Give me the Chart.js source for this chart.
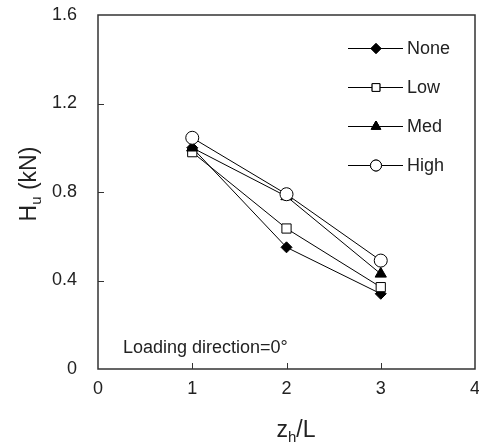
<!DOCTYPE html>
<html>
<head>
<meta charset="utf-8">
<script src="https://cdn.jsdelivr.net/npm/chart.js@4.4.0/dist/chart.umd.min.js"></script>
<style>
    html, body { margin: 0; padding: 0; background: #fff; }
    #wrap { width: 479px; height: 443px; }
</style>
</head>
<body>
<div id="wrap"><canvas id="hChart" width="479" height="443"></canvas></div>
<script>
const zhL = [1, 2, 3];
const hNone = [1.00, 0.55, 0.34];
const hLow = [0.98, 0.635, 0.37];
const hMed = [1.00, 0.78, 0.43];
const hHigh = [1.045, 0.79, 0.49];
const xTicks = [0, 1, 2, 3, 4];
const yTicks = [0, 0.4, 0.8, 1.2, 1.6];
const seriesNames = ["None", "Low", "Med", "High"];
const noteText = "Loading direction=0°";

const FONT = "'Liberation Sans', Arial, sans-serif";

function toPoints(ys) {
    return zhL.map((x, i) => ({ x: x, y: ys[i] }));
}

const styles = [
    { pointStyle: "rectRot", radius: 5.5, fill: "#000" },
    { pointStyle: "rect", radius: 6.5, fill: "#fff" },
    { pointStyle: "triangle", radius: 6.5, fill: "#000" },
    { pointStyle: "circle", radius: 6.5, fill: "#fff" },
];

const datasets = [hNone, hLow, hMed, hHigh].map((ys, i) => ({
    label: seriesNames[i],
    data: toPoints(ys),
    borderColor: "#000",
    borderWidth: 1,
    backgroundColor: styles[i].fill,
    pointStyle: styles[i].pointStyle,
    pointRadius: styles[i].radius,
    pointBackgroundColor: styles[i].fill,
    pointBorderColor: "#000",
    pointBorderWidth: 1,
    showLine: true,
    fill: false,
}));

// draws "main" + subscript + "rest" centred on 0,0 of the current transform
function subText(ctx, main, sub, rest, size, subSize, drop) {
    ctx.font = size + "px " + FONT;
    const w1 = ctx.measureText(main).width;
    const w3 = ctx.measureText(rest).width;
    ctx.font = subSize + "px " + FONT;
    const w2 = ctx.measureText(sub).width;
    const sx = -(w1 + w2 + w3) / 2;
    ctx.textAlign = "left";
    ctx.font = size + "px " + FONT;
    ctx.fillText(main, sx, 0);
    ctx.fillText(rest, sx + w1 + w2, 0);
    ctx.font = subSize + "px " + FONT;
    ctx.fillText(sub, sx + w1, drop);
}

// frame, inward ticks, legend, note and axis titles
const decorPlugin = {
    id: "decor",
    afterDraw(chart) {
        const ctx = chart.ctx;
        const a = chart.chartArea;
        const xs = chart.scales.x;
        const ys = chart.scales.y;
        ctx.save();
        ctx.strokeStyle = "#333";
        ctx.lineWidth = 1.5;
        ctx.strokeRect(a.left, a.top, a.right - a.left, a.bottom - a.top);

        ctx.lineWidth = 1;
        xTicks.slice(1, -1).forEach(v => {
            const px = Math.round(xs.getPixelForValue(v)) + 0.5;
            ctx.beginPath();
            ctx.moveTo(px, a.bottom);
            ctx.lineTo(px, a.bottom - 6);
            ctx.stroke();
        });
        yTicks.slice(1, -1).forEach(v => {
            const py = Math.round(ys.getPixelForValue(v)) + 0.5;
            ctx.beginPath();
            ctx.moveTo(a.left, py);
            ctx.lineTo(a.left + 6, py);
            ctx.stroke();
        });

        // legend, in series order
        ctx.textBaseline = "middle";
        ctx.textAlign = "left";
        datasets.forEach((ds, i) => {
            const y = 48 + i * 39;
            ctx.strokeStyle = "#000";
            ctx.lineWidth = 1;
            ctx.beginPath();
            ctx.moveTo(348, y + 0.5);
            ctx.lineTo(403, y + 0.5);
            ctx.stroke();
            ctx.fillStyle = ds.pointBackgroundColor;
            Chart.helpers.drawPoint(ctx, {
                pointStyle: ds.pointStyle,
                radius: i === 0 ? 5 : 5.5,
                borderWidth: 1,
                rotation: 0,
            }, 376, y + 0.5);
            ctx.fill();
            ctx.stroke();
            ctx.fillStyle = "#222";
            ctx.font = "18px " + FONT;
            ctx.fillText(ds.label, 407, y + 1);
        });

        // note
        ctx.fillStyle = "#222";
        ctx.font = "18px " + FONT;
        ctx.fillText(noteText, 123, 348);

        // axis titles
        ctx.textBaseline = "alphabetic";
        ctx.save();
        ctx.translate(36, 184);
        ctx.rotate(-Math.PI / 2);
        subText(ctx, "H", "u", " (kN)", 23, 15, 5);
        ctx.restore();

        ctx.save();
        ctx.translate(296, 437);
        subText(ctx, "z", "h", "/L", 23, 15, 5);
        ctx.restore();

        ctx.restore();
    }
};

document.addEventListener("DOMContentLoaded", () => {
    const ctx = document.getElementById("hChart").getContext("2d");
    new Chart(ctx, {
        type: "scatter",
        data: { datasets: datasets.slice().reverse() },
        options: {
            responsive: false,
            animation: false,
            layout: { autoPadding: false, padding: { left: 0, top: 15, right: 4, bottom: 0 } },
            plugins: { legend: { display: false }, tooltip: { enabled: false } },
            scales: {
                x: {
                    type: "linear",
                    min: 0,
                    max: 4,
                    afterBuildTicks: (s) => { s.ticks = xTicks.map(v => ({ value: v })); },
                    afterFit: (s) => {
                        s.height = 74;
                        s.paddingLeft = 0;
                        s.paddingRight = 0;
                    },
                    grid: { display: false, drawTicks: false },
                    border: { display: false },
                    ticks: {
                        color: "#222",
                        font: { family: FONT, size: 18 },
                        padding: 9,
                        maxRotation: 0,
                        autoSkip: false,
                    },
                },
                y: {
                    type: "linear",
                    min: 0,
                    max: 1.6,
                    afterBuildTicks: (s) => { s.ticks = yTicks.map(v => ({ value: v })); },
                    afterFit: (s) => {
                        s.width = 98;
                        s.paddingTop = 0;
                        s.paddingBottom = 0;
                    },
                    grid: { display: false, drawTicks: false },
                    border: { display: false },
                    ticks: {
                        color: "#222",
                        font: { family: FONT, size: 18 },
                        padding: 21,
                        callback: (v) => String(v),
                    },
                },
            },
        },
        plugins: [decorPlugin],
    });
});
</script>
</body>
</html>
